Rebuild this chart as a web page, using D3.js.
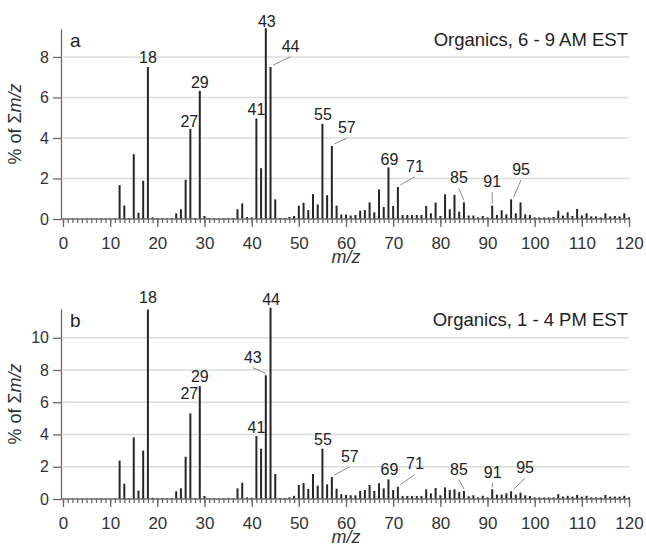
<!DOCTYPE html>
<html lang="en">
<head>
    <meta charset="UTF-8">
    <title>Organics mass spectra</title>
    <script src="https://d3js.org/d3.v7.min.js"></script>
    <style>
        body { margin: 0; padding: 0; background: #fff; }
        svg { display: block; font-family: "Liberation Sans", Arial, sans-serif; }
        .grid line { stroke: #dcdcdc; stroke-width: 1.5px; }
        .axis path, .axis line { stroke: #6a6a6a; stroke-width: 1.3px; }
        .axis text { fill: #333; }
        .bar { fill: #262626; }
        .peak { fill: #222; font-size: 16px; text-anchor: middle; }
        .leader { stroke: #8a8a8a; stroke-width: 1px; }
    </style>
</head>
<body>
<div id="chart"></div>

<script>
    // m/z channels 1..120
    const mzValues = d3.range(1, 121);

    // panel a: Organics, 6 - 9 AM EST (% of total signal)
    const morningPct = [
        0.02, 0.02, 0.02, 0.02, 0.02, 0.02, 0.02, 0.02, 0.02, 0.02,   // 1-10
        0.02, 1.67, 0.66, 0.05, 3.20, 0.31, 1.89, 7.50, 0.08, 0.05,   // 11-20
        0.03, 0.03, 0.03, 0.28, 0.48, 1.94, 4.45, 0.05, 6.32, 0.15,   // 21-30
        0.05, 0.03, 0.03, 0.03, 0.03, 0.05, 0.48, 0.77, 0.10, 0.08,   // 31-40
        4.96, 2.51, 9.42, 7.50, 0.97, 0.05, 0.05, 0.10, 0.15, 0.66,   // 41-50
        0.80, 0.44, 1.23, 0.72, 4.70, 1.18, 3.61, 0.66, 0.22, 0.22,   // 51-60
        0.17, 0.20, 0.41, 0.44, 0.82, 0.33, 1.46, 0.59, 2.55, 0.64,   // 61-70
        1.58, 0.20, 0.20, 0.20, 0.20, 0.20, 0.64, 0.28, 0.81, 0.15,   // 71-80
        1.22, 0.48, 1.19, 0.36, 0.82, 0.17, 0.17, 0.08, 0.15, 0.08,   // 81-90
        0.66, 0.20, 0.43, 0.23, 0.97, 0.28, 0.82, 0.23, 0.20, 0.08,   // 91-100
        0.08, 0.08, 0.08, 0.10, 0.41, 0.17, 0.33, 0.15, 0.49, 0.18,   // 101-110
        0.28, 0.13, 0.13, 0.08, 0.28, 0.13, 0.15, 0.13, 0.28, 0.08    // 111-120
    ];

    // panel b: Organics, 1 - 4 PM EST
    const afternoonPct = [
        0.02, 0.02, 0.02, 0.02, 0.02, 0.02, 0.02, 0.02, 0.02, 0.02,   // 1-10
        0.02, 2.38, 0.95, 0.05, 3.82, 0.52, 3.00, 11.75, 0.08, 0.04,  // 11-20
        0.04, 0.04, 0.04, 0.48, 0.66, 2.62, 5.31, 0.05, 7.00, 0.19,   // 21-30
        0.05, 0.04, 0.04, 0.04, 0.04, 0.04, 0.66, 1.01, 0.10, 0.08,   // 31-40
        3.90, 3.12, 7.67, 11.86, 1.55, 0.05, 0.05, 0.10, 0.20, 0.87,  // 41-50
        0.99, 0.62, 1.55, 0.83, 3.12, 0.91, 1.36, 0.64, 0.30, 0.25,   // 51-60
        0.23, 0.23, 0.50, 0.56, 0.87, 0.50, 0.97, 0.66, 1.22, 0.56,   // 61-70
        0.76, 0.19, 0.19, 0.19, 0.19, 0.19, 0.60, 0.35, 0.68, 0.23,   // 71-80
        0.72, 0.56, 0.60, 0.43, 0.50, 0.17, 0.23, 0.10, 0.20, 0.10,   // 81-90
        0.60, 0.27, 0.27, 0.35, 0.48, 0.27, 0.39, 0.23, 0.19, 0.10,   // 91-100
        0.10, 0.10, 0.10, 0.10, 0.30, 0.15, 0.20, 0.15, 0.25, 0.15,   // 101-110
        0.20, 0.10, 0.10, 0.10, 0.25, 0.15, 0.15, 0.15, 0.20, 0.10    // 111-120
    ];

    const xTicks = d3.range(0, 121, 10);
    const yTicksA = [0, 2, 4, 6, 8];
    const yTicksB = [0, 2, 4, 6, 8, 10];

    // peak labels: [m/z, dx, dy from bar top in px, leader line]
    const peaksA = [
        [18, 0, -4], [27, -1, -2], [29, 0, -3], [41, 0, -3.5], [43, 1, -1.5],
        [44, 20, -15.4, true], [55, 0.5, -4], [57, 15, -12.6, true], [69, 1, -2.5],
        [71, 17, -15.3, true], [85, -5, -19, true], [91, 0, -18.3, true], [95, 10, -24.4, true]
    ];
    const peaksB = [
        [18, 0, -6], [27, -1, -14], [29, 0, -4], [41, 0, -3.3], [43, -13, -12.6, true],
        [44, 0.5, -3], [55, 0.5, -4], [57, 18, -15.3, true], [69, 1, -4],
        [71, 17, -17.4, true], [85, -5, -16, true], [91, 0.5, -11.6, true], [95, 14, -18, true]
    ];

    const width = 646, height = 546;
    const svg = d3.select("#chart").append("svg").attr("width", width).attr("height", height);

    const x = d3.scaleLinear().domain([0, 120]).range([63, 629]);

    const panels = [
        { letter: "a", title: "Organics, 6 - 9 AM EST", values: morningPct, top: 29, bottom: 219, ymax: 9.38, yTicks: yTicksA, peaks: peaksA },
        { letter: "b", title: "Organics, 1 - 4 PM EST", values: afternoonPct, top: 309, bottom: 499, ymax: 11.78, yTicks: yTicksB, peaks: peaksB }
    ];

    panels.forEach(p => {
        const y = d3.scaleLinear().domain([0, p.ymax]).range([p.bottom, p.top]);
        const g = svg.append("g");

        // gridlines
        g.append("g").attr("class", "grid")
            .selectAll("line")
            .data(p.yTicks.filter(t => t > 0))
            .join("line")
            .attr("x1", 63).attr("x2", 629)
            .attr("y1", d => y(d)).attr("y2", d => y(d));

        // bars
        g.append("g")
            .selectAll("rect")
            .data(mzValues.map((m, i) => ({ mz: m, v: p.values[i] })))
            .join("rect")
            .attr("class", "bar")
            .attr("x", d => x(d.mz) - 1)
            .attr("width", 2)
            .attr("y", d => y(d.v))
            .attr("height", d => p.bottom - y(d.v));

        // minor x ticks
        g.append("g").attr("class", "axis")
            .attr("transform", `translate(0,${p.bottom})`)
            .call(d3.axisBottom(x).tickValues(d3.range(0, 121)).tickSize(4).tickFormat(""))
            .call(a => a.select(".domain").remove());

        // major x ticks with labels
        g.append("g").attr("class", "axis")
            .attr("transform", `translate(0,${p.bottom})`)
            .call(d3.axisBottom(x).tickValues(xTicks).tickSize(8).tickSizeOuter(0).tickPadding(10))
            .call(a => a.select(".domain").attr("d", "M61,0H629"))
            .call(a => a.selectAll("text").attr("font-size", 17).attr("font-family", null));

        // y axis
        g.append("g").attr("class", "axis")
            .attr("transform", "translate(61,0)")
            .call(d3.axisLeft(y).tickValues(p.yTicks).tickSize(8).tickSizeOuter(0).tickPadding(4).tickFormat(d3.format("d")))
            .call(a => a.selectAll("text").attr("font-size", 16).attr("font-family", null));

        // y axis title
        const yt = g.append("text")
            .attr("transform", `translate(21,${(p.top + p.bottom) / 2}) rotate(-90)`)
            .attr("text-anchor", "middle")
            .attr("font-size", 18)
            .attr("fill", "#333");
        yt.append("tspan").text("% of Σ");
        yt.append("tspan").attr("font-style", "italic").text("m/z");

        // x axis title
        g.append("text")
            .attr("x", (x(0) + x(120)) / 2)
            .attr("y", p.bottom + 44)
            .attr("text-anchor", "middle")
            .attr("font-size", 18)
            .attr("font-style", "italic")
            .attr("fill", "#333")
            .text("m/z");

        // panel letter and title
        g.append("text")
            .attr("x", 70).attr("y", p.top + 18)
            .attr("font-size", 19).attr("fill", "#222")
            .text(p.letter);
        g.append("text")
            .attr("x", 628).attr("y", p.top + 17)
            .attr("text-anchor", "end")
            .attr("font-size", 18.5).attr("fill", "#222")
            .text(p.title);

        // peak labels
        p.peaks.forEach(([mz, dx, dy, leader]) => {
            const bx = x(mz), by = y(p.values[mz - 1]);
            const lx = bx + dx, ly = by + dy;
            if (leader) {
                g.append("line").attr("class", "leader")
                    .attr("x1", bx + (dx > 2 ? 2.5 : 0)).attr("y1", by - 2)
                    .attr("x2", lx).attr("y2", ly + 5);
            }
            g.append("text").attr("class", "peak")
                .attr("x", lx).attr("y", ly)
                .text(mz);
        });
    });
</script>
</body>
</html>
